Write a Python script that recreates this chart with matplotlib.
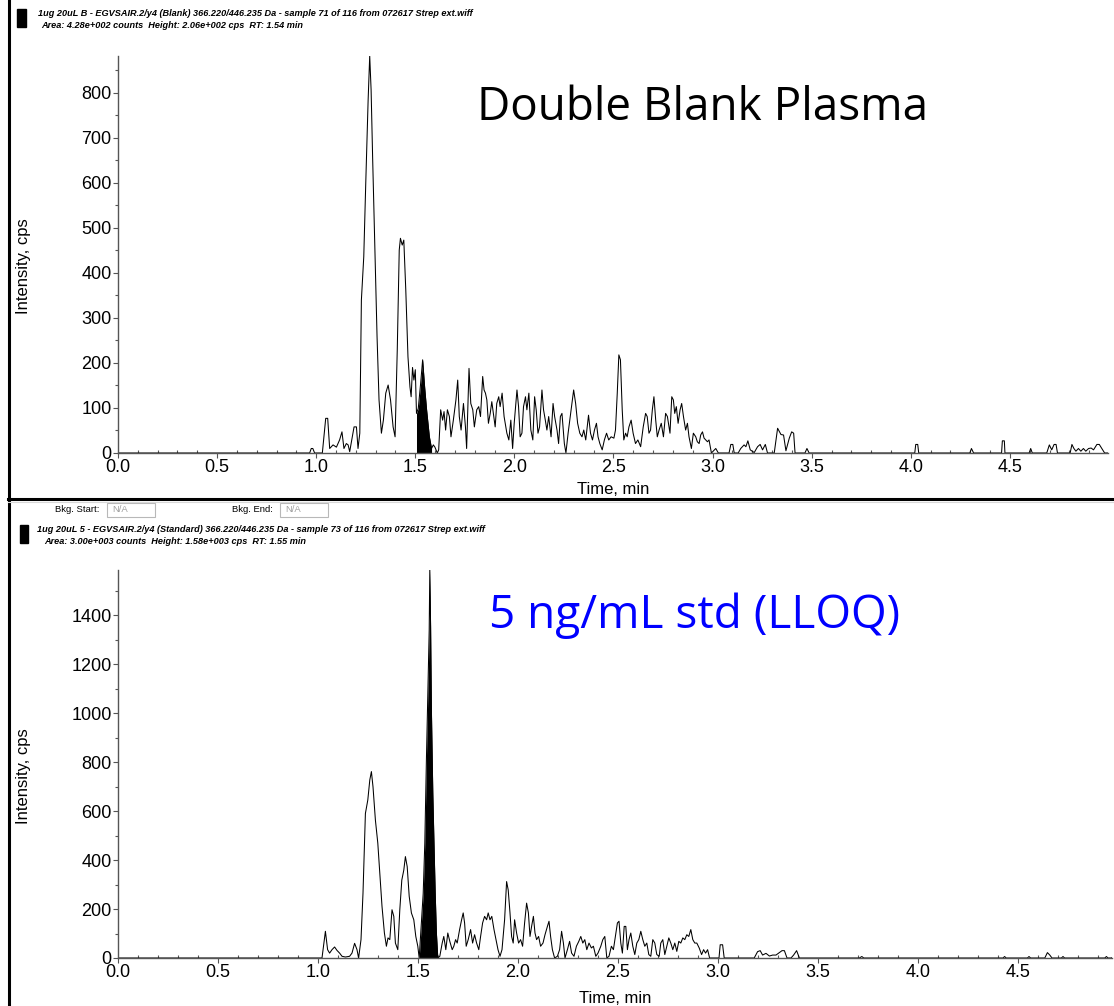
import matplotlib
matplotlib.use("Agg")
import matplotlib.pyplot as plt
from matplotlib.ticker import MultipleLocator, FormatStrFormatter
from matplotlib.patches import Rectangle
from matplotlib.lines import Line2D
import numpy as np

plt.rcParams['font.family'] = ['Liberation Sans', 'DejaVu Sans']

# XIC 366.220/446.235 Da, double blank plasma (sample 71)
blank_time = [0.0, 0.967, 0.975, 0.983, 0.992, 1.031, 1.048, 1.058, 1.068, 1.085,
              1.102, 1.118, 1.130, 1.140, 1.152, 1.161, 1.169, 1.191, 1.203, 1.211,
              1.220, 1.228, 1.240, 1.250, 1.262, 1.270, 1.277, 1.285, 1.296, 1.307,
              1.317, 1.329, 1.339, 1.351, 1.363, 1.375, 1.388, 1.398, 1.409, 1.419,
              1.425, 1.434, 1.442, 1.452, 1.463, 1.473, 1.479, 1.486, 1.493, 1.500,
              1.506, 1.515, 1.527, 1.537, 1.547, 1.557, 1.571, 1.582, 1.591, 1.599,
              1.611, 1.618, 1.628, 1.638, 1.645, 1.653, 1.662, 1.672, 1.680, 1.692,
              1.705, 1.714, 1.722, 1.731, 1.743, 1.753, 1.759, 1.771, 1.780, 1.790,
              1.798, 1.810, 1.820, 1.829, 1.840, 1.847, 1.854, 1.861, 1.869, 1.878,
              1.886, 1.894, 1.903, 1.911, 1.921, 1.928, 1.938, 1.948, 1.962, 1.972,
              1.982, 1.991, 1.999, 2.013, 2.021, 2.029, 2.038, 2.046, 2.056, 2.063,
              2.073, 2.083, 2.093, 2.102, 2.110, 2.119, 2.127, 2.139, 2.147, 2.156,
              2.164, 2.173, 2.185, 2.195, 2.203, 2.215, 2.223, 2.232, 2.240, 2.252,
              2.260, 2.271, 2.282, 2.291, 2.299, 2.309, 2.319, 2.330, 2.341, 2.350,
              2.360, 2.374, 2.384, 2.394, 2.404, 2.414, 2.422, 2.431, 2.443, 2.454,
              2.465, 2.476, 2.488, 2.502, 2.510, 2.519, 2.527, 2.535, 2.544, 2.552,
              2.561, 2.569, 2.578, 2.589, 2.599, 2.611, 2.623, 2.637, 2.650, 2.662,
              2.670, 2.679, 2.687, 2.696, 2.704, 2.713, 2.721, 2.730, 2.741, 2.752,
              2.763, 2.772, 2.785, 2.794, 2.802, 2.809, 2.817, 2.826, 2.836, 2.844,
              2.853, 2.864, 2.873, 2.881, 2.893, 2.903, 2.915, 2.923, 2.932, 2.940,
              2.949, 2.957, 2.974, 2.982, 2.994, 3.016, 3.029, 3.083, 3.092, 3.102,
              3.109, 3.129, 3.142, 3.159, 3.168, 3.178, 3.190, 3.210, 3.227, 3.240,
              3.252, 3.266, 3.277, 3.311, 3.328, 3.345, 3.358, 3.370, 3.387, 3.399,
              3.409, 3.416, 3.466, 3.476, 3.487, 4.020, 4.025, 4.035, 4.040, 4.298,
              4.306, 4.317, 4.458, 4.462, 4.472, 4.475, 4.597, 4.605, 4.613, 4.686,
              4.699, 4.711, 4.723, 4.733, 4.740, 4.804, 4.813, 4.823, 4.833, 4.846,
              4.858, 4.871, 4.883, 4.897, 4.910, 4.922, 4.939, 4.951, 4.964, 4.978,
              5.0]
blank_counts = [0, 0, 10, 10, 0, 0, 77, 77, 10, 18,
                13, 29, 47, 10, 21, 18, 3, 58, 58, 10,
                44, 340, 436, 599, 784, 882, 807, 651, 451, 259,
                118, 44, 73, 133, 151, 118, 58, 36, 229, 451,
                477, 462, 473, 362, 214, 147, 125, 190, 162, 185,
                88, 99, 155, 207, 147, 96, 36, 10, 18, 13,
                0, 7, 96, 73, 92, 51, 96, 81, 36, 73,
                118, 162, 81, 51, 110, 58, 10, 188, 110, 96,
                58, 96, 103, 81, 170, 140, 133, 118, 66, 88,
                114, 88, 58, 110, 125, 103, 133, 81, 44, 29,
                73, 10, 66, 140, 103, 36, 44, 103, 125, 96,
                133, 51, 29, 125, 96, 44, 58, 140, 96, 73,
                51, 81, 36, 110, 81, 51, 21, 81, 88, 21,
                0, 44, 81, 110, 140, 110, 66, 44, 36, 51,
                29, 84, 44, 29, 51, 66, 36, 21, 7, 29,
                44, 29, 36, 33, 51, 133, 218, 207, 96, 29,
                44, 36, 58, 73, 44, 21, 29, 14, 58, 88,
                81, 44, 51, 96, 125, 73, 36, 51, 66, 36,
                88, 81, 44, 125, 118, 88, 103, 66, 96, 110,
                81, 51, 66, 36, 10, 44, 36, 25, 21, 40,
                47, 33, 25, 29, 0, 10, 0, 0, 19, 19,
                0, 0, 10, 18, 14, 27, 7, 1, 14, 19,
                7, 19, 0, 0, 55, 41, 40, 5, 33, 47,
                44, 0, 0, 10, 0, 0, 19, 19, 0, 0,
                10, 0, 0, 27, 27, 0, 0, 10, 0, 0,
                18, 7, 19, 19, 0, 0, 19, 10, 4, 10,
                4, 10, 4, 10, 11, 7, 19, 19, 10, 0,
                0]

# same transition, 5 ng/mL standard (sample 73)
std_time = [0.0, 1.020, 1.037, 1.048, 1.058, 1.070, 1.083, 1.095, 1.108, 1.120,
            1.137, 1.158, 1.170, 1.183, 1.195, 1.203, 1.215, 1.225, 1.237, 1.249,
            1.259, 1.267, 1.275, 1.287, 1.299, 1.309, 1.320, 1.332, 1.342, 1.350,
            1.359, 1.370, 1.379, 1.387, 1.399, 1.409, 1.419, 1.429, 1.437, 1.446,
            1.456, 1.467, 1.479, 1.489, 1.499, 1.506, 1.516, 1.526, 1.534, 1.542,
            1.551, 1.556, 1.559, 1.563, 1.567, 1.574, 1.579, 1.586, 1.592, 1.599,
            1.609, 1.621, 1.629, 1.639, 1.649, 1.659, 1.671, 1.679, 1.688, 1.696,
            1.708, 1.718, 1.726, 1.733, 1.741, 1.751, 1.763, 1.773, 1.783, 1.793,
            1.804, 1.813, 1.823, 1.833, 1.843, 1.851, 1.860, 1.869, 1.880, 1.890,
            1.900, 1.910, 1.920, 1.933, 1.943, 1.951, 1.960, 1.968, 1.976, 1.983,
            1.993, 2.003, 2.013, 2.023, 2.033, 2.043, 2.052, 2.060, 2.068, 2.077,
            2.085, 2.093, 2.103, 2.113, 2.125, 2.135, 2.147, 2.155, 2.163, 2.172,
            2.183, 2.197, 2.208, 2.218, 2.227, 2.235, 2.247, 2.258, 2.268, 2.280,
            2.292, 2.304, 2.314, 2.324, 2.334, 2.344, 2.355, 2.367, 2.377, 2.389,
            2.400, 2.414, 2.424, 2.434, 2.444, 2.455, 2.467, 2.477, 2.487, 2.497,
            2.505, 2.514, 2.522, 2.531, 2.539, 2.547, 2.555, 2.564, 2.574, 2.584,
            2.594, 2.604, 2.614, 2.624, 2.634, 2.644, 2.654, 2.664, 2.674, 2.684,
            2.694, 2.706, 2.714, 2.724, 2.734, 2.744, 2.754, 2.764, 2.774, 2.784,
            2.794, 2.804, 2.814, 2.824, 2.834, 2.844, 2.854, 2.864, 2.874, 2.884,
            2.894, 2.906, 2.918, 2.928, 2.938, 2.948, 2.958, 3.005, 3.011, 3.023,
            3.031, 3.181, 3.198, 3.211, 3.223, 3.240, 3.257, 3.273, 3.290, 3.307,
            3.320, 3.332, 3.345, 3.365, 3.378, 3.393, 3.407, 3.707, 3.719, 3.729,
            4.425, 4.433, 4.441, 4.547, 4.555, 4.563, 4.634, 4.647, 4.659, 4.670,
            4.717, 4.725, 4.733, 4.934, 4.942, 4.950, 4.968, 4.976, 4.984]
std_counts = [0, 0, 109, 34, 20, 34, 45, 31, 20, 7,
              4, 7, 20, 60, 34, 0, 75, 265, 590, 645,
              727, 761, 699, 563, 469, 347, 211, 102, 48, 82,
              75, 197, 170, 61, 34, 197, 318, 359, 414, 373,
              252, 184, 156, 88, 48, 0, 129, 264, 469, 808,
              1148, 1339, 1584, 1352, 1014, 673, 497, 265, 102, 0,
              7, 61, 88, 34, 102, 68, 34, 48, 75, 61,
              116, 156, 184, 143, 48, 75, 116, 61, 95, 61,
              34, 88, 143, 170, 156, 184, 156, 170, 116, 75,
              34, 7, 34, 156, 312, 278, 184, 88, 61, 156,
              102, 61, 75, 48, 143, 224, 184, 88, 129, 170,
              102, 75, 88, 48, 61, 95, 129, 150, 88, 34,
              0, 7, 34, 109, 61, 0, 34, 68, 20, 7,
              48, 68, 88, 61, 75, 34, 61, 41, 48, 7,
              20, 48, 75, 88, 0, 7, 48, 34, 88, 143,
              150, 61, 20, 129, 129, 34, 75, 102, 48, 14,
              61, 75, 109, 75, 48, 61, 14, 7, 75, 61,
              14, 7, 61, 75, 14, 48, 82, 61, 34, 61,
              27, 68, 61, 82, 75, 95, 88, 116, 75, 61,
              61, 41, 14, 34, 20, 34, 0, 0, 54, 54,
              0, 0, 26, 30, 12, 19, 8, 12, 12, 22,
              30, 30, 0, 0, 12, 30, 0, 0, 6, 0,
              0, 6, 0, 0, 6, 0, 0, 22, 12, 0,
              0, 6, 0, 0, 6, 0, 0, 6, 0]

# integrated peak windows (min)
blank_window = (1.506, 1.582)
std_window = (1.506, 1.599)

W, H = 1114, 1006
fig = plt.figure(figsize=(W / 100, H / 100), dpi=100)


def fx(x):
    return x / W


def fy(y):
    return 1 - y / H


def chrom_axes(rect, t, c, window, ymax, ystep, xmax, xpad):
    ax = fig.add_axes(rect)
    t = np.array(t)
    c = np.array(c)
    ax.plot(t, c, color='black', lw=0.75)
    sel = (t >= window[0]) & (t <= window[1])
    ax.fill_between(t, c, 0, where=sel, color='black', lw=0)
    ax.set_xlim(0, xmax)
    ax.set_ylim(0, ymax)
    for s in ['top', 'right']:
        ax.spines[s].set_visible(False)
    for s in ['left', 'bottom']:
        ax.spines[s].set_color('#555555')
        ax.spines[s].set_linewidth(1.0)
    ax.xaxis.set_major_locator(MultipleLocator(0.5))
    ax.xaxis.set_minor_locator(MultipleLocator(0.1))
    ax.xaxis.set_major_formatter(FormatStrFormatter('%.1f'))
    ax.yaxis.set_major_locator(MultipleLocator(ystep))
    ax.yaxis.set_minor_locator(MultipleLocator(ystep / 2))
    ax.tick_params(which='major', length=3.5, width=0.8, color='#555555',
                   labelsize=13, pad=1)
    ax.tick_params(axis='x', which='minor', direction='in', length=2.5,
                   width=0.8, color='#555555')
    ax.tick_params(axis='y', which='minor', length=2, width=0.8,
                   color='#555555')
    ax.set_xlabel('Time, min', fontsize=12, labelpad=xpad)
    ax.set_ylabel('Intensity, cps', fontsize=12)
    ax.yaxis.set_label_coords(-0.088, 0.47)
    return ax


ax1 = chrom_axes([fx(118), fy(453), (1108 - 118) / W, (453 - 56) / H],
                 blank_time, blank_counts, blank_window, 882, 100, 4.995, 4.5)
ax1.text(0.3626, 0.839, 'Double Blank Plasma', transform=ax1.transAxes,
         fontsize=33, family='Open Sans', color='black', va='baseline')

ax2 = chrom_axes([fx(118), fy(958), (1112 - 118) / W, (958 - 570) / H],
                 std_time, std_counts, std_window, 1584, 200, 4.97, 7)
ax2.text(0.373, 0.851, '5 ng/mL std (LLOQ)', transform=ax2.transAxes,
         fontsize=33, family='Open Sans', color='#0000ff', va='baseline')

# pane frame
fig.add_artist(Line2D([fx(8.5), fx(8.5)], [0, 1], color='black', lw=2.2))
fig.add_artist(Line2D([fx(8), 1], [fy(499), fy(499)], color='black', lw=2.2))
fig.add_artist(Line2D([fx(8), 1], [fy(502), fy(502)], color='#d8d8d8', lw=0.8))

# trace headers
hdr = dict(fontsize=6.6, fontweight='bold', style='italic', va='center')
fig.add_artist(Rectangle((fx(17), fy(27)), fx(9), 18 / H, color='black'))
fig.text(fx(38), fy(14), '1ug 20uL B - EGVSAIR.2/y4 (Blank) 366.220/446.235 Da'
         ' - sample 71 of 116 from 072617 Strep ext.wiff', **hdr)
fig.text(fx(41), fy(25), 'Area: 4.28e+002 counts  Height: 2.06e+002 cps'
         '  RT: 1.54 min', **hdr)

fig.add_artist(Rectangle((fx(20), fy(543)), fx(8), 18 / H, color='black'))
fig.text(fx(37), fy(529), '1ug 20uL 5 - EGVSAIR.2/y4 (Standard) 366.220/446.235 Da'
         ' - sample 73 of 116 from 072617 Strep ext.wiff', **hdr)
fig.text(fx(44), fy(541), 'Area: 3.00e+003 counts  Height: 1.58e+003 cps'
         '  RT: 1.55 min', **hdr)

# background fields
for label, lx, bx in [('Bkg. Start:', 55, 107), ('Bkg. End:', 232, 280)]:
    fig.text(fx(lx), fy(510), label, fontsize=6.8, va='center')
    fig.add_artist(Rectangle((fx(bx), fy(517)), fx(48), 14 / H,
                             fc='white', ec='#b8b8b8', lw=0.8))
    fig.text(fx(bx + 5), fy(510), 'N/A', fontsize=6.8, color='#a0a0a0',
             va='center')

fig.savefig('out.png', dpi=100)
